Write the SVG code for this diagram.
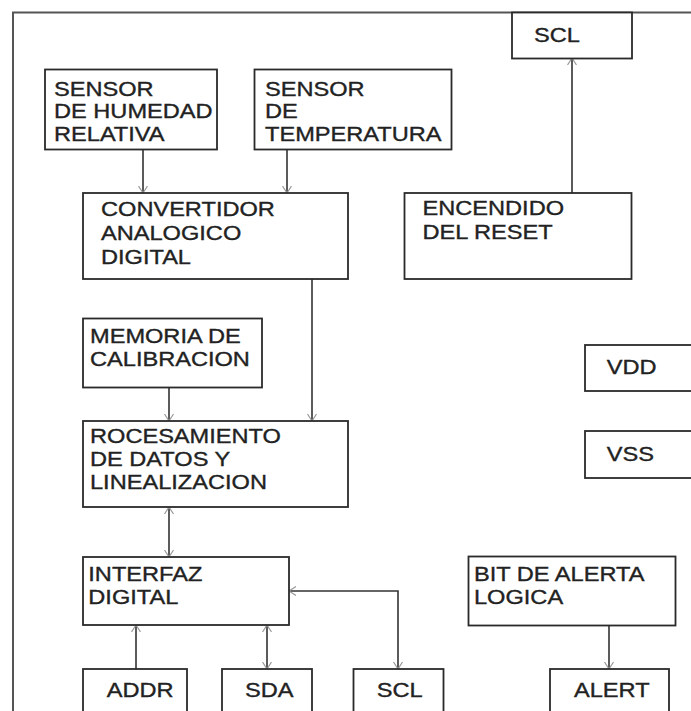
<svg xmlns="http://www.w3.org/2000/svg" width="691" height="711" viewBox="0 0 691 711">
<style>
.box{fill:#fff;stroke:#2a2a2a;stroke-width:1.8}
.t{font-family:"Liberation Sans",Arial,sans-serif;font-size:20px;fill:#222;stroke:#222;stroke-width:0.35}
.c{fill:none;stroke:#333;stroke-width:1.6}
.frame{fill:none;stroke:#555;stroke-width:2}
</style>
<defs>
<marker id="ah" viewBox="0 0 7 10" refX="7" refY="5" markerWidth="7" markerHeight="10" markerUnits="userSpaceOnUse" orient="auto-start-reverse">
<path d="M0,0.5 L7,5 L0,9.5" fill="none" stroke="#999" stroke-width="1.2"/>
</marker>
</defs>
<rect width="691" height="711" fill="#fff"/>
<path class="frame" d="M13,711 V12.5 H691"/>

<g id="connectors">
<line class="c" x1="143" y1="149" x2="143" y2="193" marker-end="url(#ah)"/>
<line class="c" x1="287" y1="149" x2="287" y2="193" marker-end="url(#ah)"/>
<line class="c" x1="312" y1="279" x2="312" y2="421" marker-end="url(#ah)"/>
<line class="c" x1="169" y1="388" x2="169" y2="421" marker-end="url(#ah)"/>
<line class="c" x1="169" y1="507" x2="169" y2="557" marker-start="url(#ah)" marker-end="url(#ah)"/>
<line class="c" x1="136" y1="669" x2="136" y2="625" marker-end="url(#ah)"/>
<line class="c" x1="267" y1="625" x2="267" y2="669" marker-start="url(#ah)" marker-end="url(#ah)"/>
<path class="c" d="M289,591 H398 V669" marker-start="url(#ah)" marker-end="url(#ah)"/>
<line class="c" x1="609" y1="626" x2="609" y2="669" marker-end="url(#ah)"/>
<line class="c" x1="572" y1="193" x2="572" y2="58" marker-end="url(#ah)"/>
</g>

<g id="scl-top">
<rect class="box" x="512" y="12.5" width="120" height="46"/>
<text class="t" transform="matrix(1.18 0 0 1 534 41.7)">SCL</text>
</g>
<g id="sensor-humedad">
<rect class="box" x="45" y="69.5" width="172" height="80"/>
<text class="t" transform="matrix(1.18 0 0 1 54 95.5)"><tspan x="0">SENSOR</tspan><tspan x="0" dy="23">DE HUMEDAD</tspan><tspan x="0" dy="23">RELATIVA</tspan></text>
</g>
<g id="sensor-temperatura">
<rect class="box" x="254.5" y="69.5" width="197" height="80"/>
<text class="t" transform="matrix(1.18 0 0 1 265 95.5)"><tspan x="0">SENSOR</tspan><tspan x="0" dy="23">DE</tspan><tspan x="0" dy="23">TEMPERATURA</tspan></text>
</g>
<g id="convertidor">
<rect class="box" x="83" y="193" width="265" height="86"/>
<text class="t" transform="matrix(1.18 0 0 1 101 216)"><tspan x="0">CONVERTIDOR</tspan><tspan x="0" dy="24">ANALOGICO</tspan><tspan x="0" dy="24">DIGITAL</tspan></text>
</g>
<g id="encendido">
<rect class="box" x="404.5" y="193" width="227" height="86"/>
<text class="t" transform="matrix(1.18 0 0 1 422.5 215)"><tspan x="0">ENCENDIDO</tspan><tspan x="0" dy="24">DEL RESET</tspan></text>
</g>
<g id="memoria">
<rect class="box" x="83" y="318.5" width="179" height="69"/>
<text class="t" transform="matrix(1.18 0 0 1 90 342.7)"><tspan x="0">MEMORIA DE</tspan><tspan x="0" dy="23">CALIBRACION</tspan></text>
</g>
<g id="vdd">
<rect class="box" x="585" y="345" width="120" height="46"/>
<text class="t" transform="matrix(1.18 0 0 1 606.7 374)">VDD</text>
</g>
<g id="vss">
<rect class="box" x="585" y="431" width="120" height="47"/>
<text class="t" transform="matrix(1.18 0 0 1 606.7 460.7)">VSS</text>
</g>
<g id="procesamiento">
<rect class="box" x="83" y="421" width="265" height="86"/>
<text class="t" transform="matrix(1.18 0 0 1 90 442.7)"><tspan x="0">ROCESAMIENTO</tspan><tspan x="0" dy="23">DE DATOS Y</tspan><tspan x="0" dy="23.5">LINEALIZACION</tspan></text>
</g>
<g id="interfaz">
<rect class="box" x="83" y="557" width="206" height="68"/>
<text class="t" transform="matrix(1.18 0 0 1 88.3 580.7)"><tspan x="0">INTERFAZ</tspan><tspan x="0" dy="23.3">DIGITAL</tspan></text>
</g>
<g id="bit-alerta">
<rect class="box" x="468.5" y="556.5" width="207" height="69"/>
<text class="t" transform="matrix(1.18 0 0 1 474 580.7)"><tspan x="0">BIT DE ALERTA</tspan><tspan x="0" dy="23.3">LOGICA</tspan></text>
</g>
<g id="addr">
<rect class="box" x="83" y="669" width="104" height="60"/>
<text class="t" transform="matrix(1.18 0 0 1 106.7 697.3)">ADDR</text>
</g>
<g id="sda">
<rect class="box" x="222" y="669" width="90" height="60"/>
<text class="t" transform="matrix(1.18 0 0 1 245 697.3)">SDA</text>
</g>
<g id="scl-bottom">
<rect class="box" x="353.5" y="669" width="90" height="60"/>
<text class="t" transform="matrix(1.18 0 0 1 376.7 697.3)">SCL</text>
</g>
<g id="alert">
<rect class="box" x="550" y="669" width="119" height="60"/>
<text class="t" transform="matrix(1.18 0 0 1 574 697.3)">ALERT</text>
</g>
</svg>
